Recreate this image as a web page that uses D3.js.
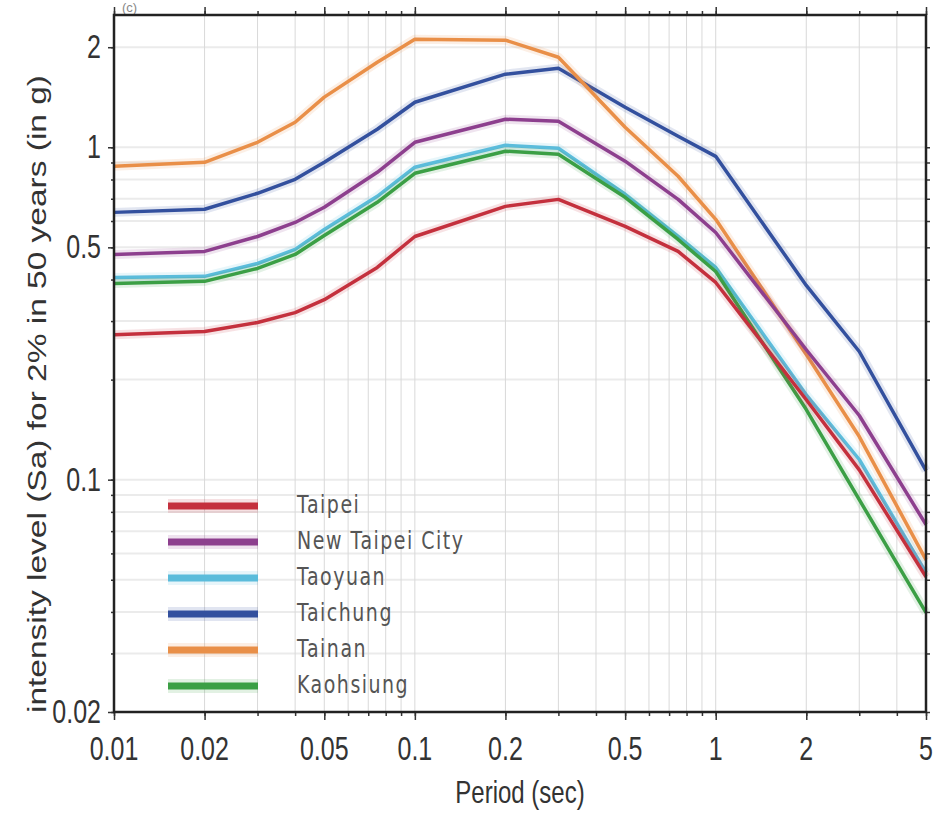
<!DOCTYPE html>
<html>
<head>
<meta charset="utf-8">
<script src="https://cdn.jsdelivr.net/npm/d3@7"></script>
<style>
  body { margin: 0; background: #fff; }
  svg { display: block; }
</style>
</head>
<body>
<div id="chart"></div>
<script>
// Spectral periods (sec)
const periods = [0.01, 0.02, 0.03, 0.04, 0.05, 0.075, 0.1, 0.2, 0.3, 0.5, 0.75, 1, 2, 3, 5];

// Sa (g) for 2% in 50 years
const taipei    = [0.273, 0.279, 0.297, 0.318, 0.348, 0.435, 0.539, 0.664, 0.697, 0.578, 0.486, 0.392, 0.174, 0.107, 0.051];
const newTaipei = [0.476, 0.486, 0.539, 0.594, 0.660, 0.841, 1.035, 1.214, 1.198, 0.908, 0.697, 0.554, 0.246, 0.156, 0.0732];
const taoyuan   = [0.406, 0.409, 0.447, 0.493, 0.566, 0.712, 0.871, 1.014, 0.993, 0.722, 0.539, 0.435, 0.180, 0.115, 0.0525];
const taichung  = [0.637, 0.651, 0.727, 0.801, 0.901, 1.133, 1.366, 1.659, 1.730, 1.320, 1.079, 0.939, 0.384, 0.243, 0.1065];
const tainan    = [0.877, 0.901, 1.035, 1.189, 1.415, 1.803, 2.115, 2.100, 1.866, 1.149, 0.818, 0.607, 0.238, 0.1348, 0.0574];
const kaohsiung = [0.389, 0.395, 0.432, 0.476, 0.543, 0.683, 0.835, 0.973, 0.953, 0.707, 0.528, 0.423, 0.1625, 0.0871, 0.0398];

const cityNames = ['Taipei', 'New Taipei City', 'Taoyuan', 'Taichung', 'Tainan', 'Kaohsiung'];
const cityValues = [taipei, newTaipei, taoyuan, taichung, tainan, kaohsiung];
const cityColors = ['#c4303d', '#8d3f8e', '#5bbcdb', '#33509e', '#e98f48', '#3b9f45'];
// draw order so the overlaps look like the original
const drawOrder = [3, 4, 1, 2, 5, 0];

// axis ticks
const xMajor = [0.01, 0.02, 0.05, 0.1, 0.2, 0.5, 1, 2, 5];
const xMajorLabels = ['0.01', '0.02', '0.05', '0.1', '0.2', '0.5', '1', '2', '5'];
const yMajor = [0.02, 0.1, 0.5, 1, 2];
const yMajorLabels = ['0.02', '0.1', '0.5', '1', '2'];

const W = 951, H = 817;
const M = { left: 114, right: 926, top: 15, bottom: 712 };
const stretch = 1.3; // glyphs in the reference are tall and narrow

const xMinor = [];
[0.01, 0.1, 1].forEach((d) => { for (let k = 1; k <= 9; k++) { const v = +(d * k).toPrecision(3); if (v <= 5) xMinor.push(v); } });
const yMinor = [];
[0.01, 0.1, 1].forEach((d) => { for (let k = 1; k <= 9; k++) { const v = +(d * k).toPrecision(3); if (v >= 0.02 && v <= 2.5) yMinor.push(v); } });

const x = d3.scaleLog().domain([0.01, 5]).range([M.left, M.right]);
const y = d3.scaleLog().domain([0.02, 2.5]).range([M.bottom, M.top]);

const svg = d3.select('#chart').append('svg')
  .attr('width', W)
  .attr('height', H)
  .attr('viewBox', `0 0 ${W} ${H}`);

const tickFont = "'Liberation Sans', Arial, sans-serif";

// small panel label at the top
svg.append('text')
  .attr('x', 122)
  .attr('y', 12)
  .attr('font-family', tickFont)
  .attr('font-size', 13)
  .attr('fill', '#888')
  .text('(c)');

// grid
const grid = svg.append('g');
grid.selectAll('.hgrid')
  .data(yMinor)
  .enter()
  .append('line')
  .attr('x1', M.left).attr('x2', M.right)
  .attr('y1', (d) => y(d)).attr('y2', (d) => y(d))
  .attr('stroke', '#ebebeb')
  .attr('stroke-width', 2);

grid.selectAll('.vgrid')
  .data(xMinor)
  .enter()
  .append('line')
  .attr('x1', (d) => x(d)).attr('x2', (d) => x(d))
  .attr('y1', M.top).attr('y2', M.bottom)
  .attr('stroke', '#d9d9d9')
  .attr('stroke-width', 1);

// axes (tick marks only, labels drawn separately)
function tickAxis(axis, scale, values, size, tr) {
  const g = svg.append('g')
    .attr('transform', tr)
    .call(axis(scale).tickValues(values).tickSize(size).tickFormat(''));
  g.select('.domain').remove();
  g.selectAll('line').attr('stroke', '#333').attr('stroke-width', 1.5);
}
tickAxis(d3.axisBottom, x, xMinor, 4, `translate(0,${M.bottom})`);
tickAxis(d3.axisBottom, x, xMajor, 8, `translate(0,${M.bottom})`);
tickAxis(d3.axisTop, x, xMinor, 4, `translate(0,${M.top})`);
tickAxis(d3.axisTop, x, xMajor, 8, `translate(0,${M.top})`);
tickAxis(d3.axisLeft, y, yMinor, 3, `translate(${M.left},0)`);
tickAxis(d3.axisLeft, y, yMajor, 6, `translate(${M.left},0)`);
tickAxis(d3.axisRight, y, yMinor, 4, `translate(${M.right},0)`);

// curves
const line = d3.line()
  .x((d) => x(d[0]))
  .y((d) => y(d[1]));

const curves = svg.append('g');
drawOrder.forEach((i) => {
  const pts = periods.map((p, j) => [p, cityValues[i][j]]);
  curves.append('path')
    .datum(pts)
    .attr('d', line)
    .attr('fill', 'none')
    .attr('stroke', cityColors[i])
    .attr('stroke-width', 9)
    .attr('stroke-opacity', 0.14)
    .attr('stroke-linejoin', 'round');
  curves.append('path')
    .datum(pts)
    .attr('d', line)
    .attr('fill', 'none')
    .attr('stroke', cityColors[i])
    .attr('stroke-width', 3.5)
    .attr('stroke-linejoin', 'round');
});

// frame
svg.append('rect')
  .attr('x', M.left).attr('y', M.top)
  .attr('width', M.right - M.left).attr('height', M.bottom - M.top)
  .attr('fill', 'none')
  .attr('stroke', '#222')
  .attr('stroke-width', 2.5);

// tick labels
svg.selectAll('.xlab')
  .data(xMajor)
  .enter()
  .append('text')
  .attr('transform', (d) => `translate(${x(d)},760) scale(1,${stretch})`)
  .attr('text-anchor', 'middle')
  .attr('font-family', tickFont)
  .attr('font-size', 25)
  .attr('fill', '#333')
  .text((d, i) => xMajorLabels[i]);

svg.selectAll('.ylab')
  .data(yMajor)
  .enter()
  .append('text')
  .attr('transform', (d) => `translate(101,${y(d) + 11}) scale(1,${stretch})`)
  .attr('text-anchor', 'end')
  .attr('font-family', tickFont)
  .attr('font-size', 25)
  .attr('fill', '#333')
  .text((d, i) => yMajorLabels[i]);

// axis titles
svg.append('text')
  .attr('transform', `translate(520,803) scale(1,${stretch})`)
  .attr('text-anchor', 'middle')
  .attr('font-family', tickFont)
  .attr('font-size', 24)
  .attr('fill', '#333')
  .text('Period (sec)');

svg.append('text')
  .attr('transform', 'translate(46,394) rotate(-90)')
  .attr('text-anchor', 'middle')
  .attr('font-family', tickFont)
  .attr('font-size', 25)
  .attr('fill', '#333')
  .attr('textLength', 638)
  .attr('lengthAdjust', 'spacingAndGlyphs')
  .text('intensity level (Sa) for 2% in 50 years (in g)');

// legend
const legend = svg.append('g');
cityNames.forEach((name, i) => {
  const ly = 506 + i * 36;
  legend.append('line')
    .attr('x1', 168).attr('x2', 258)
    .attr('y1', ly).attr('y2', ly)
    .attr('stroke', cityColors[i])
    .attr('stroke-width', 14)
    .attr('stroke-opacity', 0.15);
  legend.append('line')
    .attr('x1', 168).attr('x2', 258)
    .attr('y1', ly).attr('y2', ly)
    .attr('stroke', cityColors[i])
    .attr('stroke-width', 7);
  legend.append('text')
    .attr('transform', `translate(297,${ly + 7}) scale(1,${stretch})`)
    .attr('font-family', "'DejaVu Sans', sans-serif")
    .attr('font-size', 19)
    .attr('letter-spacing', 1.5)
    .attr('fill', '#555')
    .text(name);
});
</script>
</body>
</html>
